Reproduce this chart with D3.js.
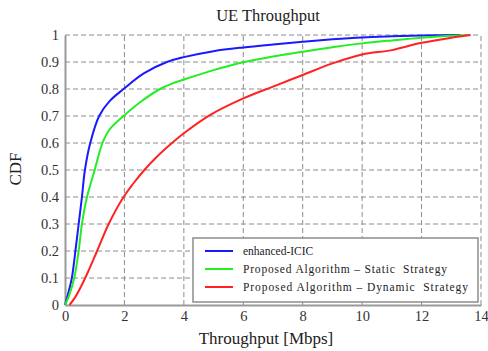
<!DOCTYPE html>
<html>
<head>
<meta charset="utf-8">
<script src="https://cdn.jsdelivr.net/npm/d3@7"></script>
<style>
  body { margin: 0; background: #fff; }
  svg { display: block; font-family: "Liberation Serif", "DejaVu Serif", serif; }
  .grid line { stroke: #8c8c8c; stroke-width: 1; stroke-dasharray: 5,3; }
</style>
</head>
<body>
<div id="chart"></div>
<script>
// CDF of UE throughput
const xTicks = [0, 2, 4, 6, 8, 10, 12, 14]
const yTicks = [0, 0.1, 0.2, 0.3, 0.4, 0.5, 0.6, 0.7, 0.8, 0.9, 1]

const eicicX = [0, 0.1, 0.23, 0.35, 0.46, 0.57, 0.67, 0.85, 1.15, 1.5, 1.97, 2.65, 3.43, 4, 5, 6, 7, 8, 9, 10, 11, 12, 13.3]
const eicicY = [0, 0.04, 0.1, 0.2, 0.3, 0.4, 0.5, 0.6, 0.7, 0.755, 0.8, 0.858, 0.9, 0.918, 0.94, 0.954, 0.965, 0.975, 0.984, 0.991, 0.995, 0.998, 1]

const staticX = [0, 0.12, 0.31, 0.46, 0.57, 0.74, 1.0, 1.26, 1.5, 1.97, 2.54, 3.2, 3.6, 4, 5, 6, 7, 8, 9, 10, 11, 12, 13, 13.6]
const staticY = [0, 0.03, 0.1, 0.2, 0.3, 0.4, 0.5, 0.6, 0.65, 0.7, 0.752, 0.8, 0.82, 0.835, 0.87, 0.899, 0.92, 0.938, 0.955, 0.969, 0.98, 0.99, 0.997, 1]

const dynamicX = [0.15, 0.35, 0.68, 1.08, 1.47, 1.97, 2.3, 2.67, 3.1, 3.6, 4, 4.89, 6, 7, 8, 9, 10, 11, 12, 13, 13.65]
const dynamicY = [0, 0.03, 0.1, 0.2, 0.3, 0.4, 0.45, 0.5, 0.55, 0.6, 0.636, 0.704, 0.765, 0.809, 0.852, 0.895, 0.928, 0.944, 0.971, 0.99, 1]

const seriesNames = ['enhanced-ICIC', 'Proposed\u2009Algorithm \u2013 Static  Strategy', 'Proposed\u2009Algorithm \u2013 Dynamic  Strategy']
const seriesColors = ['#1a1aff', '#22ee22', '#ff2222']

const series = [
  {name: seriesNames[0], color: seriesColors[0], xs: eicicX, ys: eicicY},
  {name: seriesNames[1], color: seriesColors[1], xs: staticX, ys: staticY},
  {name: seriesNames[2], color: seriesColors[2], xs: dynamicX, ys: dynamicY},
]

const width = 488
const height = 351
const margin = {top: 35, right: 7, bottom: 46, left: 65}

const svg = d3.select('#chart').append('svg')
    .attr('width', width)
    .attr('height', height)

const x = d3.scaleLinear().domain([0, 14]).range([margin.left, width - margin.right])
const y = d3.scaleLinear().domain([0, 1]).range([height - margin.bottom, margin.top])

// dashed grid (also makes the top and right border)
const grid = svg.append('g').attr('class', 'grid')
grid.selectAll('line.v')
    .data(xTicks.slice(1))
    .enter()
    .append('line')
    .attr('x1', (d) => x(d)).attr('x2', (d) => x(d))
    .attr('y1', y(0)).attr('y2', y(1))
grid.selectAll('line.h')
    .data(yTicks.slice(1))
    .enter()
    .append('line')
    .attr('x1', x(0)).attr('x2', x(14))
    .attr('y1', (d) => y(d)).attr('y2', (d) => y(d))

// axes
const xAxis = svg.append('g')
    .attr('transform', `translate(0,${y(0)})`)
    .call(d3.axisBottom(x).tickValues(xTicks).tickSize(0).tickPadding(6).tickFormat(d3.format('d')))
const yAxis = svg.append('g')
    .attr('transform', `translate(${x(0)},0)`)
    .call(d3.axisLeft(y).tickValues(yTicks).tickSize(0).tickPadding(6).tickFormat((d) => d === 0 || d === 1 ? d : d.toFixed(1)))

for (const ax of [xAxis, yAxis]) {
  ax.select('.domain').attr('stroke', '#999').attr('stroke-width', 2)
  ax.selectAll('text')
      .attr('font-family', '"Liberation Serif", serif')
      .attr('font-size', 14.5)
      .attr('fill', '#333')
}

// curves
const line = d3.line()
    .x((d) => x(d[0]))
    .y((d) => y(d[1]))
    .curve(d3.curveCatmullRom.alpha(0.5))

svg.selectAll('path.cdf')
    .data(series)
    .enter()
    .append('path')
    .attr('class', 'cdf')
    .attr('fill', 'none')
    .attr('stroke', (d) => d.color)
    .attr('stroke-width', 2)
    .attr('d', (d) => line(d.xs.map((v, i) => [v, d.ys[i]])))

// legend
const legendWidths = [null, 204, 225]
const legend = svg.append('g').attr('transform', 'translate(193,238)')
legend.append('rect')
    .attr('width', 285)
    .attr('height', 64)
    .attr('fill', '#fff')
    .attr('stroke', '#8c8c8c')
    .attr('stroke-width', 1.5)
const items = legend.selectAll('g.item')
    .data(series)
    .enter()
    .append('g')
    .attr('class', 'item')
    .attr('transform', (d, i) => `translate(0,${13 + i * 18})`)
items.append('line')
    .attr('x1', 12).attr('x2', 40)
    .attr('stroke', (d) => d.color)
    .attr('stroke-width', 2)
items.append('text')
    .attr('x', 50)
    .attr('dy', '0.35em')
    .attr('font-size', 11.5)
    .attr('fill', '#222')
    .attr('textLength', (d, i) => legendWidths[i])
    .attr('lengthAdjust', 'spacing')
    .style('white-space', 'pre')
    .text((d) => d.name)

// titles
svg.append('text')
    .attr('x', 268).attr('y', 21)
    .attr('text-anchor', 'middle')
    .attr('font-size', 16.5)
    .attr('fill', '#222')
    .text('UE Throughput')
svg.append('text')
    .attr('x', 266).attr('y', 344)
    .attr('text-anchor', 'middle')
    .attr('font-size', 17)
    .attr('fill', '#222')
    .text('Throughput [Mbps]')
svg.append('text')
    .attr('transform', 'translate(21,169) rotate(-90)')
    .attr('text-anchor', 'middle')
    .attr('font-size', 17)
    .attr('fill', '#222')
    .text('CDF')
</script>
</body>
</html>
